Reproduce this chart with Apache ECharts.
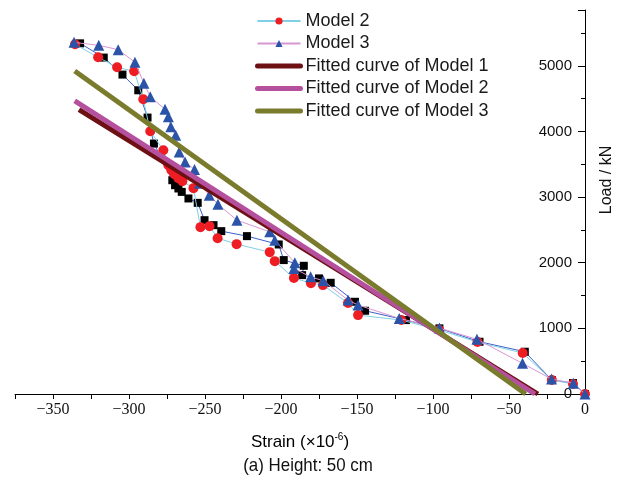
<!DOCTYPE html>
<html><head><meta charset="utf-8">
<script src="https://cdn.jsdelivr.net/npm/echarts@6/dist/echarts.min.js"></script>
<style>html,body{margin:0;padding:0;background:#fff}#c{width:629px;height:482px}</style>
</head><body><div id="c"></div>
<script>
// Strain (x10^-6), Load (kN)
const model1 = [[-332.2,5342],[-316.6,5125],[-304.3,4866],[-293.9,4627],[-287.8,4211],[-283.6,3815],[-271.5,3257],[-269.7,3181],[-267.5,3131],[-265.3,3079],[-260.9,2979],[-254.8,2912],[-250.3,2648],[-244.4,2572],[-239.3,2481],[-222.4,2405],[-201.5,2278],[-198.2,2040],[-185,1953],[-186.1,1811],[-175,1761],[-167.3,1694],[-151.3,1405],[-144.7,1268],[-117.8,1126],[-95.8,1000],[-69.4,796],[-39.6,644],[-21.8,213],[-7.9,167],[0,0]];
const model2 = [[-335.5,5327],[-320.3,5129],[-307.8,4977],[-296.6,4916],[-290.6,4490],[-286,4003],[-277.4,3714],[-274.1,3485],[-272.1,3409],[-270.1,3348],[-267.5,3288],[-264.9,3242],[-257.6,3136],[-253,2542],[-247,2557],[-241.7,2374],[-229.2,2283],[-207.4,2161],[-204.1,2024],[-191.5,1766],[-180.3,1689],[-172.4,1659],[-155.9,1385],[-149.3,1202],[-120.9,1126],[-95.8,974],[-70.7,791],[-41,624],[-21.8,213],[-7.9,152],[0,0]];
const model3 = [[-336.2,5357],[-319.9,5312],[-307.1,5246],[-296.1,5053],[-290.2,4733],[-286,4528],[-276.3,4338],[-274.1,4224],[-272.5,4071],[-269.3,3942],[-267,3688],[-263.1,3536],[-256.9,3420],[-253.6,3211],[-247.2,3029],[-241.5,2892],[-229,2648],[-207.4,2470],[-204.1,2344],[-190.9,1998],[-191.5,1913],[-180.5,1785],[-172.2,1725],[-155.9,1431],[-149.3,1355],[-122.2,1152],[-95.8,1004],[-71.1,833],[-41.1,467],[-22,228],[-7.7,163],[0,0]];
const fit1 = [[-332.9,4333],[-31,0]];
const fit2 = [[-335.7,4464],[-33,0]];
const fit3 = [[-335.7,4921],[-39,0]];
const seriesNames = ['Model 1','Model 2','Model 3','Fitted curve of Model 1','Fitted curve of Model 2','Fitted curve of Model 3'];
const xTitle = 'Strain (×10';
const yTitle = 'Load / kN';
const caption = '(a) Height: 50 cm';

const chart = echarts.init(document.getElementById('c'));
const grid = {left:15,right:44,top:10,bottom:88,containLabel:false};
const yBase = {type:'value',min:0,max:5850,position:'right',splitLine:{show:false}};
const fitLegend = (name,color)=>({name:name,itemStyle:{opacity:0},lineStyle:{width:5,cap:'round',color:color}});
chart.setOption({
  animation:false,
  backgroundColor:'#fff',
  grid:grid,
  legend:{
    data:[seriesNames[1],seriesNames[2],
      fitLegend(seriesNames[3],'#6d1014'),fitLegend(seriesNames[4],'#b5509f'),fitLegend(seriesNames[5],'#7a7b2c')],
    orient:'vertical',left:255,top:12,
    itemWidth:43,itemHeight:9,itemGap:4.5,
    textStyle:{fontFamily:'Liberation Sans, Arial',fontSize:18,color:'#1a1a1a',lineHeight:18},
    padding:0
  },
  xAxis:{type:'value',min:-375,max:0,interval:25,
    axisLine:{onZero:false,lineStyle:{color:'#000',width:1}},
    axisTick:{inside:false,length:5,lineStyle:{color:'#000'}},
    splitLine:{show:false},
    axisLabel:{margin:8,color:'#111',fontFamily:'Liberation Serif, Times New Roman',fontSize:16,
      formatter:v=>(Math.round(v)%50===0)?(v<0?'\u2212'+(-v):String(v)):''}
  },
  yAxis:[
    Object.assign({},yBase,{interval:500,
      axisLine:{show:true,lineStyle:{color:'#000',width:1}},
      axisTick:{inside:true,length:4,lineStyle:{color:'#000'}},
      axisLabel:{inside:true,margin:13,color:'#111',fontFamily:'Liberation Sans, Arial',fontSize:15,
        formatter:v=>(Math.round(v)%1000===0)?String(v):''}}),
    Object.assign({},yBase,{interval:1000,
      axisLine:{show:false},
      axisTick:{inside:true,length:7,lineStyle:{color:'#000'}},
      axisLabel:{show:false}})
  ],
  graphic:[
    {type:'text',x:300,y:442,style:{
      text:'{a|'+xTitle+'}{s|-6}{a|)}',
      rich:{a:{fontFamily:'Liberation Sans, Arial',fontSize:17,color:'#111'},
            s:{fontFamily:'Liberation Sans, Arial',fontSize:10,color:'#111',verticalAlign:'top',padding:[0,0,10,0]}},
      align:'center',verticalAlign:'middle'}},
    {type:'text',x:308,y:466,scaleX:0.89,style:{text:caption,fontFamily:'Liberation Sans, Arial',fontSize:19,fill:'#111',align:'center',verticalAlign:'middle'}},
    {type:'text',x:607,y:180,rotation:Math.PI/2,style:{text:yTitle,fontFamily:'Liberation Sans, Arial',fontSize:16,fill:'#111',align:'center',verticalAlign:'middle'}}
  ],
  series:[
    {name:seriesNames[0],type:'line',data:model1,symbol:'rect',symbolSize:8,
      itemStyle:{color:'#000'},lineStyle:{color:'#3d5fc8',width:1},z:3},
    {name:seriesNames[1],type:'line',data:model2,symbol:'circle',symbolSize:10,
      itemStyle:{color:'#ee1d23'},lineStyle:{color:'#7fcfe6',width:1},z:4},
    {name:seriesNames[2],type:'line',data:model3,symbol:'triangle',symbolSize:11,
      itemStyle:{color:'#2b54a8'},lineStyle:{color:'#d797d3',width:1},z:5},
    {name:seriesNames[3],type:'line',data:fit1,symbol:'none',lineStyle:{color:'#6d1014',width:5},itemStyle:{color:'#6d1014'},z:6},
    {name:seriesNames[4],type:'line',data:fit2,symbol:'none',lineStyle:{color:'#b5509f',width:5},itemStyle:{color:'#b5509f'},z:6},
    {name:seriesNames[5],type:'line',data:fit3,symbol:'none',lineStyle:{color:'#7a7b2c',width:5},itemStyle:{color:'#7a7b2c'},z:6}
  ]
});
</script></body></html>
